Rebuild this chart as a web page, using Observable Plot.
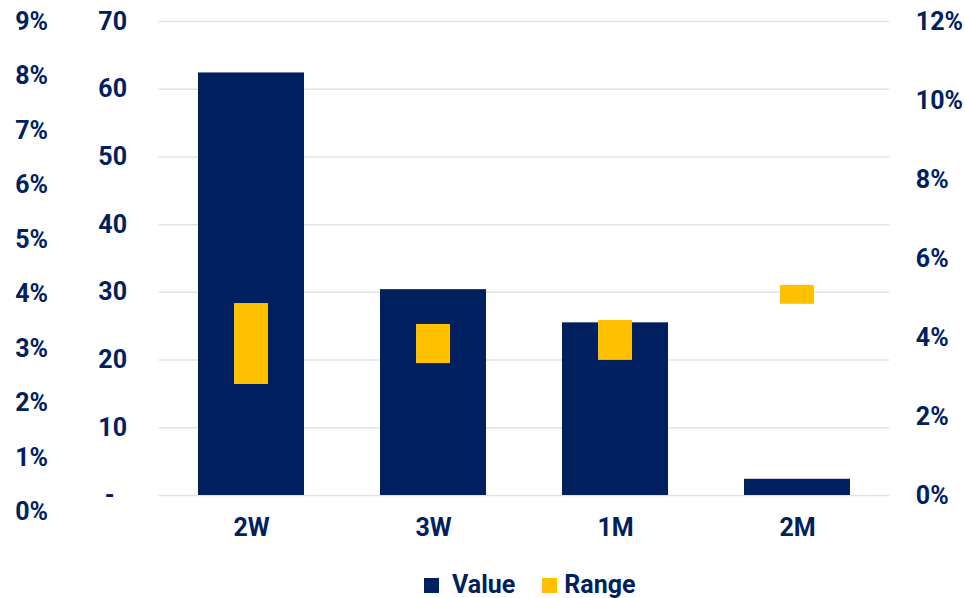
<!DOCTYPE html>
<html>
<head>
<meta charset="utf-8">
<script src="https://cdn.jsdelivr.net/npm/d3@7"></script>
<script src="https://cdn.jsdelivr.net/npm/@observablehq/plot@0.6"></script>
<style>
  html, body { margin: 0; padding: 0; background: #fff; }
  #wrap { position: relative; width: 965px; height: 598px; font-family: Roboto, sans-serif; overflow: hidden; }
  #legend { position: absolute; left: 424px; top: 573px; height: 24px; line-height: 24px; display: flex; align-items: center;
            font: bold 25px/24px Roboto, sans-serif; color: #002060; }
  #legend .sw { width: 15px; height: 15px; display: inline-block; }
</style>
</head>
<body>
<div id="wrap">
  <div id="chart"></div>
  <div id="legend">
    <span class="sw" style="background:#002060"></span><span style="margin-left:13px">Value</span>
    <span class="sw" style="background:#FFC000;margin-left:27px"></span><span style="margin-left:7px">Range</span>
  </div>
</div>
<script>
// ---- data ----
const tenors = ["2W", "3W", "1M", "2M"];
const values = [62.4, 30.4, 25.5, 2.4];
const rangeLow = [2.81, 3.34, 3.42, 4.84];   // % (right axis)
const rangeHigh = [4.86, 4.33, 4.43, 5.32];  // % (right axis)
const leftTicks = [0, 10, 20, 30, 40, 50, 60, 70];
const leftTickLabels = ["-", "10", "20", "30", "40", "50", "60", "70"];
const rightTicks = [0, 2, 4, 6, 8, 10, 12];
const rightTickLabels = ["0%", "2%", "4%", "6%", "8%", "10%", "12%"];
const farLeftTicks = [0, 1, 2, 3, 4, 5, 6, 7, 8, 9];
const farLeftTickLabels = ["0%", "1%", "2%", "3%", "4%", "5%", "6%", "7%", "8%", "9%"];

// ---- axis conversions (secondary axes mapped onto the primary y scale) ----
const rightToY = p => p * 70 / 12;
const farLeftToY = p => -2.51 + p * (72.51 / 9);

const bars = tenors.map((t, i) => ({tenor: t, value: values[i]}));
const ranges = tenors.map((t, i) => ({tenor: t, lo: rightToY(rangeLow[i]), hi: rightToY(rangeHigh[i])}));

const navy = "#002060", gold = "#FFC000";

const chart = Plot.plot({
  width: 965,
  height: 560,
  marginTop: 21,
  marginBottom: 65,
  marginLeft: 158.5,
  marginRight: 75.7,
  style: {fontFamily: "Roboto, sans-serif", fontSize: "25px", fontWeight: "bold", color: navy, background: "#fff"},
  x: {domain: tenors, paddingInner: 0.42, paddingOuter: 0.21, axis: null},
  y: {domain: [0, 70], axis: null},
  marks: [
    Plot.ruleY(leftTicks, {stroke: "#e3e3e3", strokeWidth: 1.5}),
    Plot.barY(bars, {x: "tenor", y: "value", fill: navy}),
    Plot.barY(ranges, {x: "tenor", y1: "lo", y2: "hi", fill: gold, insetLeft: 36, insetRight: 36}),
    Plot.axisX({anchor: "bottom", tickSize: 0, tickPadding: 23, fontSize: 25, label: null}),
    Plot.axisY(leftTicks, {anchor: "left", tickSize: 0, tickPadding: 32, label: null,
      tickFormat: d => d === 0 ? leftTickLabels[0] + "\u00a0\u00a0" : leftTickLabels[leftTicks.indexOf(d)]}),
    Plot.axisY(rightTicks.map(rightToY), {anchor: "right", tickSize: 0, tickPadding: 26, label: null,
      tickFormat: (d, i) => rightTickLabels[i]}),
    Plot.axisY(farLeftTicks.map(farLeftToY), {anchor: "left", tickSize: 0, tickPadding: 111, label: null,
      tickFormat: (d, i) => farLeftTickLabels[i]})
  ]
});
document.getElementById("chart").appendChild(chart);
</script>
</body>
</html>
